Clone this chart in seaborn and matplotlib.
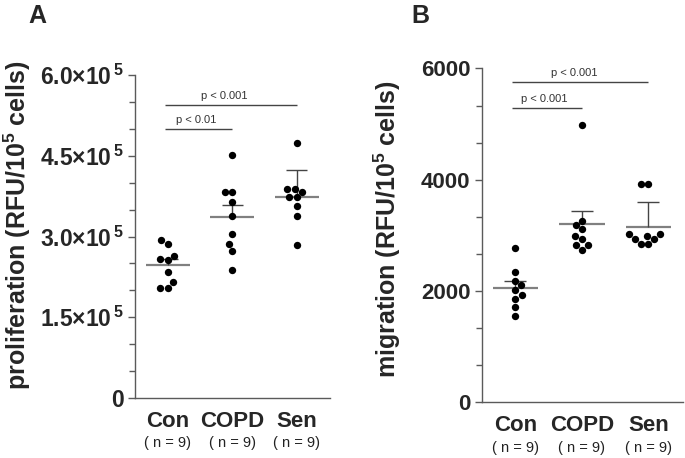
import numpy as np
import pandas as pd
import matplotlib
matplotlib.use("Agg")
import matplotlib.pyplot as plt
from matplotlib.ticker import MultipleLocator
import seaborn as sns

groups = ["Con", "COPD", "Sen"]
n_labels = ["( n = 9)", "( n = 9)", "( n = 9)"]

# A: proliferation (RFU/10^5 cells)
prolif_con = [2.94e5, 2.87e5, 2.63e5, 2.56e5, 2.58e5, 2.35e5, 2.15e5, 2.05e5, 2.05e5]
prolif_copd = [4.51e5, 3.83e5, 3.83e5, 3.64e5, 3.38e5, 3.05e5, 2.86e5, 2.74e5, 2.38e5]
prolif_sen = [4.74e5, 3.88e5, 3.83e5, 3.88e5, 3.73e5, 3.73e5, 3.56e5, 3.38e5, 2.84e5]
prolif_err = [0.11e5, 0.22e5, 0.50e5]
prolif_ticks = [0, 1.5e5, 3.0e5, 4.5e5, 6.0e5]
prolif_ticklabels = ["0", "1.5×10$^{\\,5}$", "3.0×10$^{\\,5}$", "4.5×10$^{\\,5}$", "6.0×10$^{\\,5}$"]
prolif_sig = [(0, 1, 5.0e5, "p < 0.01"), (0, 2, 5.44e5, "p < 0.001")]

# B: migration (RFU/10^5 cells)
migr_con = [2772, 2346, 2184, 2101, 2017, 1927, 1850, 1717, 1555]
migr_copd = [4986, 3262, 3190, 3107, 2993, 2938, 2820, 2820, 2730]
migr_sen = [3921, 3921, 3017, 2993, 3017, 2933, 2933, 2838, 2838]
migr_err = [120, 230, 438]
migr_ticks = [0, 2000, 4000, 6000]
migr_ticklabels = ["0", "2000", "4000", "6000"]
migr_sig = [(0, 1, 5280, "p < 0.001"), (0, 2, 5753, "p < 0.001")]

sns.set_style("ticks")
plt.rcParams["font.family"] = ["Liberation Sans", "DejaVu Sans"]
plt.rcParams["mathtext.fontset"] = "custom"
plt.rcParams["mathtext.rm"] = "Liberation Sans:bold"
plt.rcParams["mathtext.default"] = "rm"

axcol = "#5a5a5a"


def long_df(con, copd, sen):
    return pd.DataFrame({"group": ["Con"] * len(con) + ["COPD"] * len(copd) + ["Sen"] * len(sen),
                         "value": con + copd + sen})


def panel(ax, df, err, ticks, ticklabels, minor, ylim, sig, ylabel, label_xy, tick_fs):
    sns.swarmplot(data=df, x="group", y="value", order=groups, color="black",
                  size=5.3, ax=ax, zorder=3)
    means = df.groupby("group")["value"].mean().reindex(groups).values
    for i, (m, e) in enumerate(zip(means, err)):
        ax.hlines(m, i - 0.34, i + 0.34, color="#808080", lw=1.6, zorder=2)
        ax.vlines(i, m, m + e, color="#444444", lw=1, zorder=2)
        ax.hlines(m + e, i - 0.165, i + 0.165, color="#444444", lw=1, zorder=2)
    for a, b, y, txt in sig:
        ax.hlines(y, a - 0.05, b, color="#444444", lw=1, clip_on=False)
        mid = (a + b) / 2 - 0.06 * (b - a)
        ax.annotate(txt, (mid, y), xytext=(0, 6.5), textcoords="offset points",
                    ha="center", va="center", fontsize=8, color="#333333",
                    annotation_clip=False)
    ax.set_ylim(*ylim)
    ax.set_xlim(-0.51, 2.52)
    ax.set_yticks(ticks)
    ax.set_yticklabels(ticklabels, fontweight="bold")
    ax.yaxis.set_minor_locator(MultipleLocator(minor))
    ax.set_xticks(range(len(groups)))
    ax.set_xticklabels(groups, fontweight="bold")
    ax.tick_params(axis="y", which="major", length=5, width=1, color=axcol,
                   labelsize=tick_fs, pad=3)
    ax.tick_params(axis="y", which="minor", length=4, width=1, color=axcol)
    ax.tick_params(axis="x", length=0, labelsize=16, pad=9)
    for i, t in enumerate(n_labels):
        ax.text(i, -0.138, t, transform=ax.get_xaxis_transform(), ha="center",
                va="center", fontsize=10.5, color="#222222")
    ax.set_xlabel("")
    ax.set_ylabel(ylabel, fontsize=18, fontweight="bold")
    ax.yaxis.set_label_coords(*label_xy)
    sns.despine(ax=ax)
    for s in ["left", "bottom"]:
        ax.spines[s].set_color(axcol)
        ax.spines[s].set_linewidth(1)


fig = plt.figure(figsize=(6.85, 4.58), dpi=100)
axA = fig.add_axes([0.197, 0.131, 0.285, 0.705])
axB = fig.add_axes([0.703, 0.1216, 0.294, 0.729])

panel(axA, long_df(prolif_con, prolif_copd, prolif_sen), prolif_err, prolif_ticks,
      prolif_ticklabels, 0.5e5, (0, 6.0e5), prolif_sig,
      "proliferation (RFU/10$^5$ cells)", (-0.523, 0.536), 16.5)
panel(axB, long_df(migr_con, migr_copd, migr_sen), migr_err, migr_ticks,
      migr_ticklabels, 2000 / 3, (0, 6000), migr_sig,
      "migration (RFU/10$^5$ cells)", (-0.391, 0.52), 16)

fig.text(28 / 685, 1 - 23 / 458, "A", fontsize=18, fontweight="bold", va="baseline")
fig.text(411 / 685, 1 - 23 / 458, "B", fontsize=18, fontweight="bold", va="baseline")

fig.savefig("out.png", dpi=100)
